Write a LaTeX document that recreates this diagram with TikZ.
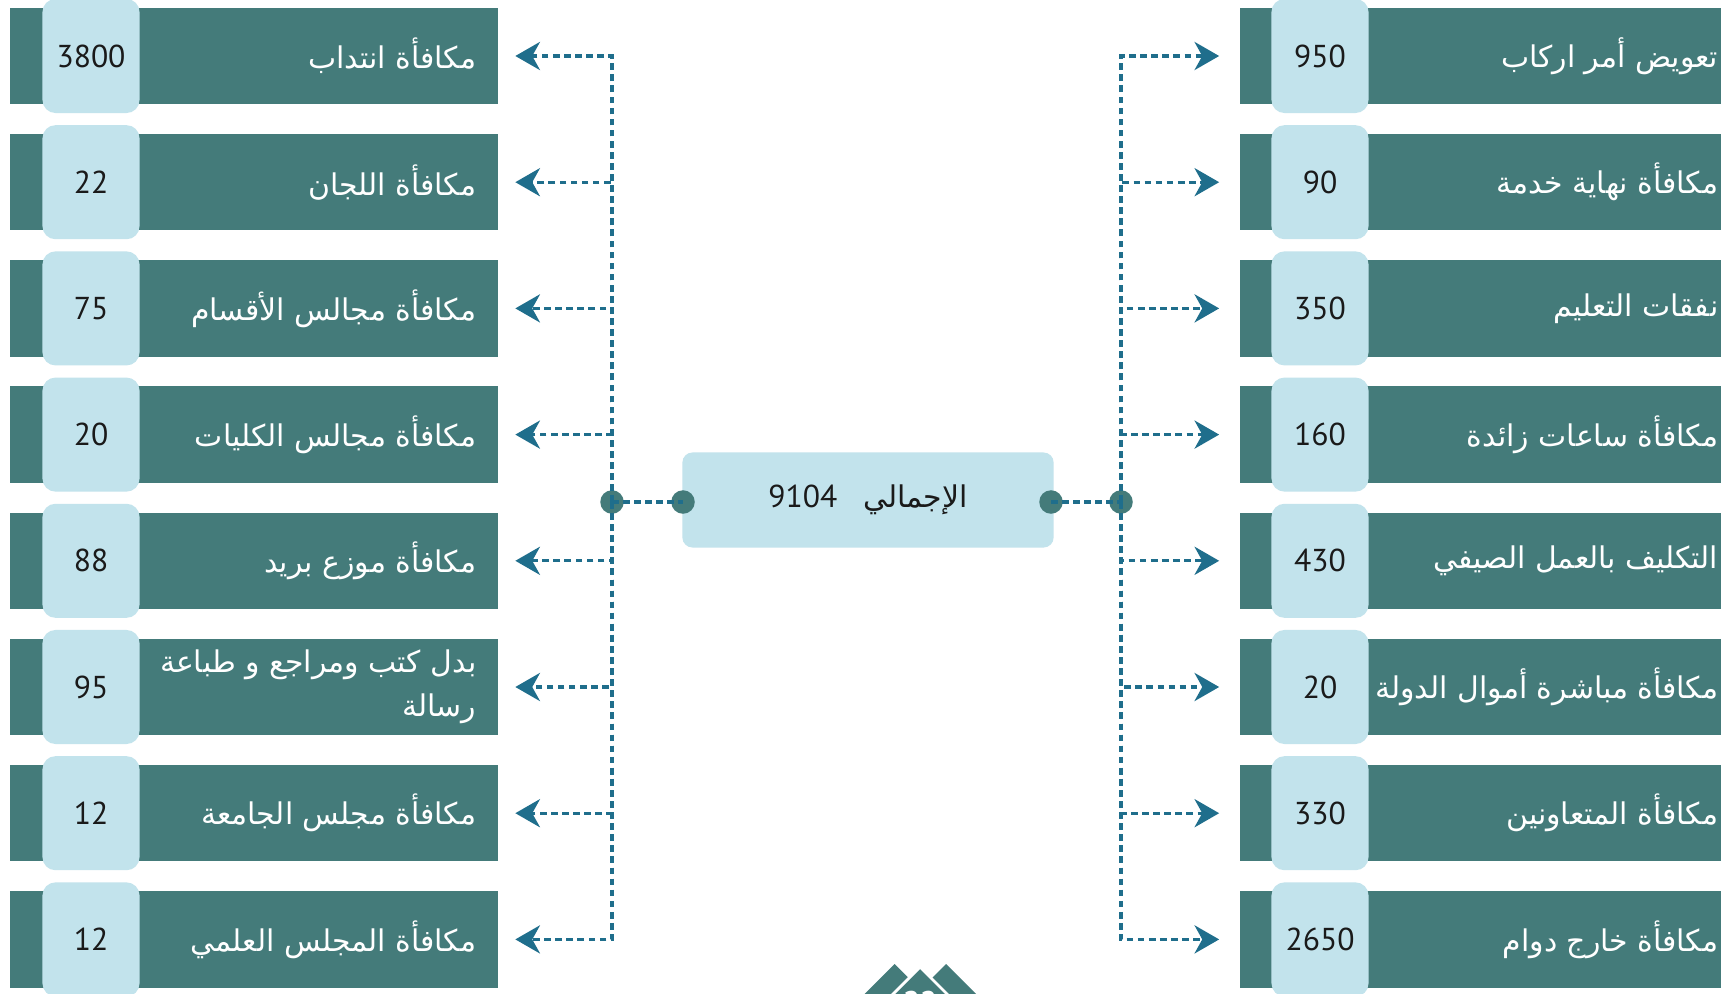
\documentclass[tikz,border=0pt]{standalone}
\usepackage{fontspec}
\usepackage{tikz}
\usetikzlibrary{arrows.meta}
\newfontfamily\arabicfont[Script=Arabic]{DejaVu Sans}
\newfontfamily\numfont{PT Sans}
\TeXXeTstate=1
\definecolor{barcol}{RGB}{68,123,122}
\definecolor{boxcol}{RGB}{194,227,236}
\definecolor{linkcol}{RGB}{31,110,140}
\definecolor{numcol}{RGB}{26,26,26}

\begin{document}
\begin{tikzpicture}[x=0.01cm,y=-0.01cm,
   bar/.style={fill=barcol,minimum width=4.87cm,minimum height=0.965cm,inner sep=0},
   rbar/.style={bar,minimum width=4.9cm},
   numbox/.style={fill=boxcol,rounded corners=0.13cm,minimum width=0.97cm,minimum height=1.14cm,inner sep=0,text=numcol,font=\numfont\fontsize{9}{11}\selectfont},
   barlabel/.style={anchor=east,align=right,inner sep=0,text=white,font=\arabicfont\fontsize{8.5}{12.5}\selectfont},
   totalbox/.style={fill=boxcol,rounded corners=0.1cm,minimum width=3.71cm,minimum height=0.95cm,inner sep=0,text=numcol},
   joint/.style={circle,fill=barcol,minimum size=0.235cm,inner sep=0},
   link/.style={draw=linkcol,line width=0.9pt,dash pattern=on 1.9pt off 1.25pt,-{Stealth[length=7pt,width=8pt,inset=2.2pt]}}]

  \useasboundingbox[fill=white] (0,0) rectangle (1721,994);

  \foreach \txt/\val [count=\i] in {مكافأة انتداب/3800,مكافأة اللجان/22,مكافأة مجالس الأقسام/75,مكافأة مجالس الكليات/20,مكافأة موزع بريد/88,{بدل كتب ومراجع و طباعة\endR\\\beginR رسالة}/95,مكافأة مجلس الجامعة/12,مكافأة المجلس العلمي/12}{
    \pgfmathsetmacro\yy{56+(\i-1)*126.2}
    \node[bar] (lb\i) at (254,\yy) {};
    \node[numbox] (ln\i) at (91,\yy) {\val};
    \node[barlabel] (lt\i) at (477,\yy) {\beginR\txt\endR};
  }

  \foreach \txt/\val [count=\i] in {تعويض أمر اركاب/950,مكافأة نهاية خدمة/90,نفقات التعليم/350,مكافأة ساعات زائدة/160,التكليف بالعمل الصيفي/430,مكافأة مباشرة أموال الدولة/20,مكافأة المتعاونين/330,مكافأة خارج دوام/2650}{
    \pgfmathsetmacro\yy{56+(\i-1)*126.2}
    \node[rbar] (rb\i) at (1485,\yy) {};
    \node[numbox] (rn\i) at (1320,\yy) {\val};
    \node[barlabel] (rt\i) at (1719,\yy) {\beginR\txt\endR};
  }

  \node[totalbox] (total) at (868,500) {\arabicfont\fontsize{8.5}{11}\selectfont\beginR الإجمالي\hspace{0.26cm}{\numfont\fontsize{9}{11}\selectfont\beginL 9104\endL}\endR};

  \node[joint] (ld) at (612,502) {};
  \node[joint] (ci) at (683,502) {};
  \node[joint] (cr) at (1051,502) {};
  \node[joint] (rd) at (1121,502) {};

  \draw[link,-] (ld.center) -- (ci.center);
  \draw[link,-] (cr.center) -- (rd.center);
  \foreach \i in {1,...,8} {
    \draw[link,shorten >=0.17cm] (ld.center) |- (lb\i);
    \draw[link,shorten >=0.2cm] (rd.center) |- (rb\i);
  }

  \fill[barcol] (894.5,964) -- ++(-60,60) -- ++(120,0) -- cycle;
  \fill[barcol] (946,964) -- ++(-60,60) -- ++(120,0) -- cycle;
  \filldraw[fill=barcol,draw=white,line width=0.8pt] (920,967) -- ++(-60,60) -- ++(120,0) -- cycle;
  \node[text=white,font=\numfont\bfseries\fontsize{8.5}{10}\selectfont] (page) at (920,1002) {22};
\end{tikzpicture}
\end{document}
